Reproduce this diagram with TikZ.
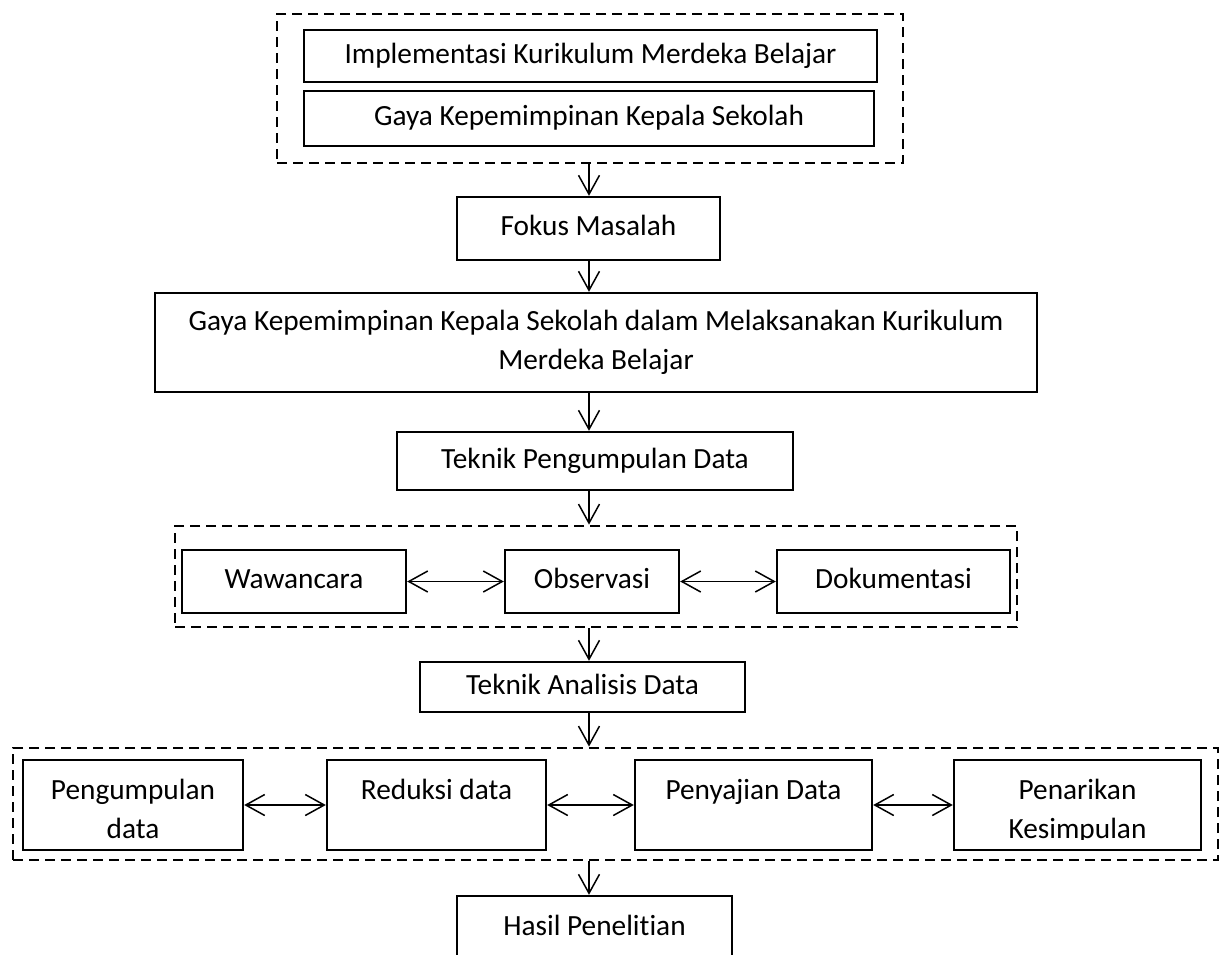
\documentclass[tikz,border=0pt]{standalone}
\usepackage{fontspec}
\setmainfont{Carlito}[Ligatures=NoCommon]
\usetikzlibrary{arrows.meta}

\begin{document}
\begin{tikzpicture}[x=1pt, y=-1pt, >={Straight Barb[length=19pt,width=21pt]},
    font=\fontsize{29.3}{39}\selectfont,
    box/.style={draw, line width=2.4pt, inner sep=0pt, text height=20pt, text depth=6pt},
    frame/.style={draw, line width=2.8pt, dash pattern=on 10pt off 6pt, inner sep=0pt},
    link/.style={line width=1.5pt}]
    \clip (0,0) rectangle (1222,954);
    \coordinate (spine) at (589,0);

    \node[frame, minimum width=626pt, minimum height=149pt] (fr1) at (590,88.5) {};
    \node[box, minimum width=573pt, minimum height=52pt] (kurikulum) at (590.5,56) {Implementasi Kurikulum Merdeka Belajar};
    \node[box, minimum width=570pt, minimum height=55pt] (gaya) at (589,118.5) {Gaya Kepemimpinan Kepala Sekolah};

    \node[box, minimum width=263pt, minimum height=63pt] (fokus) at (588.5,228.5) {Fokus Masalah};
    \node[draw, line width=2.4pt, align=center, minimum width=882pt, minimum height=99pt] (judul) at (596,342.5)
        {Gaya Kepemimpinan Kepala Sekolah dalam Melaksanakan Kurikulum\\Merdeka Belajar};
    \node[box, minimum width=396pt, minimum height=58pt] (kumpul) at (595,461) {Teknik Pengumpulan Data};

    \node[frame, minimum width=842pt, minimum height=101pt] (fr2) at (596,576.5) {};
    \node[box, minimum width=224pt, minimum height=63pt] (wawancara) at (294,581.5) {Wawancara};
    \node[box, minimum width=174pt, minimum height=63pt] (observasi) at (592,581.5) {Observasi};
    \node[box, minimum width=233pt, minimum height=63pt] (dokumentasi) at (893.5,581.5) {Dokumentasi};

    \node[box, minimum width=325pt, minimum height=50pt] (analisis) at (582.5,687) {Teknik Analisis Data};

    \node[frame, minimum width=1205pt, minimum height=112pt] (fr3) at (615.5,804) {};
    \node[box, minimum width=220pt, minimum height=90pt] (pd) at (133,805) {};
    \node[box, minimum width=219pt, minimum height=90pt] (rd) at (436.5,805) {};
    \node[box, minimum width=237pt, minimum height=90pt] (sd) at (753.5,805) {};
    \node[box, minimum width=247pt, minimum height=90pt] (pk) at (1077.5,805) {};
    \foreach \bx/\txt in {pd/{Pengumpulan\\data}, rd/{Reduksi data}, sd/{Penyajian Data}, pk/{Penarikan\\Kesimpulan}} {
        \begin{scope}
            \clip (\bx.north west) rectangle ([yshift=11.5pt]\bx.south east);
            \node[anchor=north, inner sep=0pt, align=center] (\bx-text) at ([yshift=-12pt]\bx.north) {\rule{0pt}{28pt}\txt};
        \end{scope}
    }

    \node[box, minimum width=275pt, minimum height=80pt, text height=22pt, text depth=24pt] (hasil) at (594.5,936) {Hasil Penelitian};

    \draw[link, ->] (spine |- fr1.south) -- (spine |- fokus.north);
    \draw[link, ->] (spine |- fokus.south) -- (spine |- judul.north);
    \draw[link, ->] (spine |- judul.south) -- (spine |- kumpul.north);
    \draw[link, ->] (spine |- kumpul.south) -- (spine |- fr2.north);
    \draw[link, ->] (spine |- fr2.south) -- (spine |- analisis.north);
    \draw[link, ->] (spine |- analisis.south) -- (spine |- fr3.north);
    \draw[link, ->] (spine |- fr3.south) -- (spine |- hasil.north);

    \draw[link, <->] (wawancara) -- (observasi);
    \draw[link, <->] (observasi) -- (dokumentasi);
    \draw[link, <->] (pd) -- (rd);
    \draw[link, <->] (rd) -- (sd);
    \draw[link, <->] (sd) -- (pk);
\end{tikzpicture}
\end{document}
